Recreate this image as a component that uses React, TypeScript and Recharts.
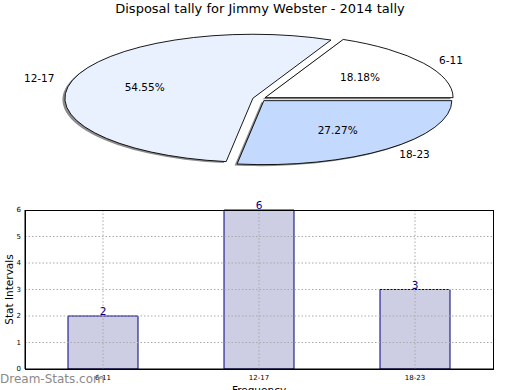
import { PieChart, Pie, BarChart, Bar, XAxis, YAxis, ReferenceLine, LabelList } from 'recharts';

const categories = ['6-11', '12-17', '18-23'];
const counts = [2, 6, 3];
const pieColors = ['#ffffff', '#eaf1fe', '#c4d9fe'];
const yTicks = [0, 1, 2, 3, 4, 5, 6];

const pieData = categories.map((name, i) => ({ name, value: counts[i], fill: pieColors[i] }));
const barData = categories.map((name, i) => ({ name, value: counts[i] }));

const FONT = '"DejaVu Sans", sans-serif';
const RAD = Math.PI / 180;
// the pie is squashed into an ellipse and every wedge is pushed out a little
const SQUASH = 64 / 188;
const EXPLODE = 0.036;

const wedgePath = (p: any, sx = 0, sy = 0) => {
  const { cx, cy, outerRadius: r, startAngle, endAngle, midAngle } = p;
  const ox = cx + EXPLODE * r * Math.cos(midAngle * RAD) + sx;
  const oy = cy - EXPLODE * r * SQUASH * Math.sin(midAngle * RAD) + sy;
  const pt = (a: number) => [ox + r * Math.cos(a * RAD), oy - r * SQUASH * Math.sin(a * RAD)];
  const [x1, y1] = pt(startAngle);
  const [x2, y2] = pt(endAngle);
  const large = Math.abs(endAngle - startAngle) > 180 ? 1 : 0;
  return `M${ox},${oy} L${x1},${y1} A${r},${r * SQUASH} 0 ${large} 0 ${x2},${y2} Z`;
};

const Wedge = (p: any) => (
  <path d={wedgePath(p)} fill={p.fill} stroke="#000" strokeWidth={0.9} />
);

const ShadowWedge = (p: any) => (
  <path d={wedgePath(p, -2.5, 1.5)} fill="#8c8c8c" stroke="none" />
);

const renderLabels = (p: any) => {
  const { cx, cy, outerRadius: r, midAngle, percent, name } = p;
  const c = Math.cos(midAngle * RAD);
  const s = Math.sin(midAngle * RAD);
  const ox = cx + EXPLODE * r * c;
  const oy = cy - EXPLODE * r * SQUASH * s;
  return (
    <g>
      <text x={ox + 0.6 * r * c} y={oy - 0.6 * r * SQUASH * s} textAnchor="middle" dominantBaseline="central"
        fontSize={10.5} fontFamily={FONT} fill="#000">
        {`${(percent * 100).toFixed(2)}%`}
      </text>
      <text x={ox + 1.1 * r * c} y={oy - 1.1 * r * SQUASH * s} textAnchor={c >= 0 ? 'start' : 'end'}
        dominantBaseline="central" fontSize={10.5} fontFamily={FONT} fill="#000">
        {name}
      </text>
    </g>
  );
};

export default function App() {
  return (
    <div style={{ position: 'absolute', left: 0, top: 0, width: 520, height: 390, background: '#fff', overflow: 'hidden' }}>
      <div style={{ position: 'absolute', left: 0, top: 1, width: 520, textAlign: 'center', fontFamily: FONT, fontSize: 13, color: '#000' }}>
        Disposal tally for Jimmy Webster - 2014 tally
      </div>
      <div style={{ position: 'absolute', left: 0, top: 0 }}>
        <PieChart width={520} height={200} margin={{ top: 0, right: 0, bottom: 0, left: 0 }}>
          {/* shadow layer first, then the wedges */}
          <Pie data={pieData} dataKey="value" nameKey="name" cx={259.4} cy={98.9} outerRadius={188}
            startAngle={0} endAngle={360} isAnimationActive={false} shape={ShadowWedge} label={false} labelLine={false} />
          <Pie data={pieData} dataKey="value" nameKey="name" cx={259.4} cy={98.9}
            outerRadius={188} startAngle={0} endAngle={360} isAnimationActive={false} shape={Wedge}
            label={renderLabels} labelLine={false} />
        </PieChart>
      </div>
      <div style={{ position: 'absolute', left: 0, top: 200 }}>
        <BarChart width={520} height={190} data={barData} margin={{ top: 10, right: 27, bottom: 0, left: 0 }}>
          <XAxis dataKey="name" height={21} tickLine={false} tickSize={3} tickMargin={3} axisLine={{ stroke: '#000' }}
            tick={{ fontSize: 7, fontFamily: FONT, fill: '#000' }}
            label={{ value: 'Frequency', position: 'insideBottom', offset: -4, fontSize: 10.5, fontFamily: FONT, fill: '#000' }} />
          <YAxis domain={[0, 6]} ticks={yTicks} width={25} tickLine={false} tickSize={2} tickMargin={2} axisLine={{ stroke: '#000' }}
            tick={{ fontSize: 7, fontFamily: FONT, fill: '#000' }}
            label={{ value: 'Stat Intervals', angle: -90, position: 'insideLeft', offset: 9, fontSize: 10.5, fontFamily: FONT, fill: '#000', style: { textAnchor: 'middle' } }} />
          <Bar dataKey="value" barSize={70} fill="#cdcde3" stroke="#00007f" strokeWidth={1} isAnimationActive={false}>
            <LabelList dataKey="value" position="top" offset={1} fill="#00007f" fontSize={10.5} fontFamily={FONT} />
          </Bar>
          {yTicks.slice(1, -1).map((v) => (
            <ReferenceLine key={`h${v}`} y={v} stroke="#aaaaaa" strokeDasharray="1.5 2" />
          ))}
          {categories.map((c) => (
            <ReferenceLine key={`v${c}`} x={c} stroke="#aaaaaa" strokeDasharray="1.5 2" />
          ))}
        </BarChart>
      </div>
      {/* frame round the bar plot */}
      <div style={{ position: 'absolute', left: 25, top: 210, width: 467, height: 158, border: '1px solid #000', pointerEvents: 'none' }} />
      <div style={{ position: 'absolute', left: 0, top: 372, fontFamily: FONT, fontSize: 12, color: '#8a8a8a' }}>
        Dream-Stats.com
      </div>
    </div>
  );
}
